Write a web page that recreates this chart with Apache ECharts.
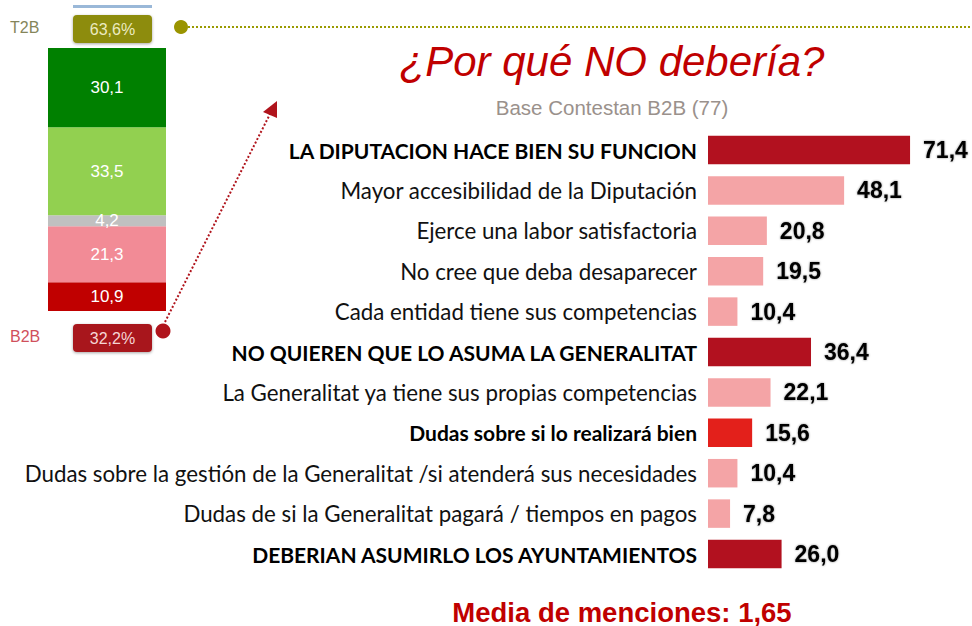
<!DOCTYPE html>
<html>
<head>
<meta charset="utf-8">
<script src="https://cdn.jsdelivr.net/npm/echarts@6/dist/echarts.min.js"></script>
<style>html,body{margin:0;padding:0;background:#fff}#c{width:972px;height:626px}</style>
</head>
<body>
<div id="c"></div>
<script>
// ---- data ----
const categories = [
  'LA DIPUTACION HACE BIEN SU FUNCION',
  'Mayor accesibilidad de la Diputación',
  'Ejerce una labor satisfactoria',
  'No cree que deba desaparecer',
  'Cada entidad tiene sus competencias',
  'NO QUIEREN QUE LO ASUMA LA GENERALITAT',
  'La Generalitat ya tiene sus propias competencias',
  'Dudas sobre si lo realizará bien',
  'Dudas sobre la gestión de la Generalitat /si atenderá sus necesidades',
  'Dudas de si la Generalitat pagará / tiempos en pagos',
  'DEBERIAN ASUMIRLO LOS AYUNTAMIENTOS'
];
const values = [71.4, 48.1, 20.8, 19.5, 10.4, 36.4, 22.1, 15.6, 10.4, 7.8, 26.0];
const rowKind = ['group','item','item','item','item','group','item','doubt','item','item','group'];

const stackNames = ['Muy en desacuerdo','En desacuerdo','NS/NC','De acuerdo','Muy de acuerdo'];
const stackValues = [10.9, 21.3, 4.2, 33.5, 30.1];
const summaryLabels = ['T2B', 'B2B'];
const summaryValues = [63.6, 32.2];

const titleText = '¿Por qué NO debería?';
const subtitleText = 'Base Contestan B2B (77)';
const footerText = 'Media de menciones: 1,65';

// ---- styles ----
const fmt = v => v.toFixed(1).replace('.', ',');
const kindColor = {group: '#b2111f', item: '#f4a4a6', doubt: '#e3201b'};
const stackColors = ['#c00000', '#f28b96', '#c0c0c0', '#92d050', '#008000'];
const LABEL_FONT = 'Lato, "Noto Sans", sans-serif';

const chart = echarts.init(document.getElementById('c'), null, {renderer: 'svg'});

const stackSeries = stackValues.map((v, i) => ({
  type: 'bar', name: stackNames[i], stack: 'tot', xAxisIndex: 1, yAxisIndex: 1,
  barWidth: '100%', data: [v],
  itemStyle: {color: stackColors[i]},
  label: {show: true, position: 'inside', formatter: p => fmt(p.value),
    color: '#ffffff', fontSize: 17, fontFamily: 'Liberation Sans, Arial, sans-serif'},
  silent: true
}));

function badge(x, y, label, value, fill, labelColor, textColor) {
  return [
    {type: 'text', left: 10, top: y - 10,
      style: {text: label, fill: labelColor, font: '16px "Liberation Sans", Arial, sans-serif'}},
    {type: 'rect', shape: {x: x, y: y - 14, width: 79, height: 28, r: 4},
      style: {fill: fill, shadowBlur: 3, shadowColor: 'rgba(0,0,0,0.35)', shadowOffsetY: 1}},
    {type: 'text', x: x + 39.5, y: y,
      style: {text: value.toFixed(1).replace('.', ',') + '%', fill: textColor,
        font: '16px "Liberation Sans", Arial, sans-serif', align: 'center', verticalAlign: 'middle'}}
  ];
}

const option = {
  animation: false,
  backgroundColor: '#ffffff',
  grid: [
    {left: 708, top: 129.8, width: 254.7, height: 444.4, containLabel: false},
    {left: 48, top: 48, width: 118, height: 263, containLabel: false}
  ],
  xAxis: [
    {type: 'value', min: 0, max: 90, show: false, gridIndex: 0},
    {type: 'category', data: [''], show: false, gridIndex: 1}
  ],
  yAxis: [
    {type: 'category', data: categories, inverse: true, gridIndex: 0,
      axisLine: {show: false}, axisTick: {show: false}, splitLine: {show: false},
      axisLabel: {
        margin: 11, fontFamily: LABEL_FONT, fontSize: 22, color: '#111111',
        formatter: (val, idx) => rowKind[idx] === 'item' ? '{n|' + val + '}' : '{b|' + val + '}',
        rich: {
          n: {fontFamily: LABEL_FONT, fontSize: 22.3, color: '#111111'},
          b: {fontFamily: LABEL_FONT, fontSize: 21, fontWeight: 'bold', color: '#000000'}
        }
      }},
    {type: 'value', min: 0, max: 100, show: false, gridIndex: 1}
  ],
  series: [
    {type: 'bar', xAxisIndex: 0, yAxisIndex: 0, barWidth: 28.5,
      data: values.map((v, i) => ({value: v, itemStyle: {color: kindColor[rowKind[i]]}})),
      label: {show: true, position: 'right', distance: 13, formatter: p => fmt(p.value),
        color: '#000000', fontSize: 23, fontWeight: 'bold',
        fontFamily: '"Liberation Sans", Arial, sans-serif',
        textShadowColor: 'rgba(0,0,0,0.45)', textShadowBlur: 2},
      silent: true}
  ].concat(stackSeries),
  graphic: [
    // title, subtitle, footer
    {type: 'text', x: 612, y: 61, style: {text: titleText, fill: '#c00000',
      font: 'italic 42px "Liberation Sans", Arial, sans-serif', align: 'center', verticalAlign: 'middle'}},
    {type: 'text', x: 612, y: 107, style: {text: subtitleText, fill: '#9a918c',
      font: '20.5px "Liberation Sans", Arial, sans-serif', align: 'center', verticalAlign: 'middle'}},
    {type: 'text', x: 622, y: 612, style: {text: footerText, fill: '#c00000',
      font: 'bold 27.5px "Liberation Sans", Arial, sans-serif', align: 'center', verticalAlign: 'middle'}},
    // blue sliver at top
    {type: 'line', shape: {x1: 73, y1: 6.5, x2: 152, y2: 6.5}, style: {stroke: '#9ab8d8', lineWidth: 3}},
    // connectors
    {type: 'line', shape: {x1: 188, y1: 27, x2: 972, y2: 27},
      style: {stroke: '#9a9a00', lineWidth: 2, lineDash: [2, 2]}},
    {type: 'circle', shape: {cx: 181, cy: 27, r: 7}, style: {fill: '#9a9400'}},
    {type: 'line', shape: {x1: 165, y1: 322, x2: 270, y2: 114},
      style: {stroke: '#b0141c', lineWidth: 2, lineDash: [2, 2]}},
    {type: 'polygon', shape: {points: [[277, 101], [263, 112], [277, 118]]}, style: {fill: '#b0141c'}},
    {type: 'circle', shape: {cx: 163, cy: 331, r: 7.5}, style: {fill: '#b0141c'}}
  ]
  .concat(badge(73, 29, summaryLabels[0], summaryValues[0], '#8d8c08', '#85855a', '#ecebc0'))
  .concat(badge(73, 338, summaryLabels[1], summaryValues[1], '#a8171c', '#d0505c', '#f5d5d5'))
};
chart.setOption(option);
</script>
</body>
</html>
